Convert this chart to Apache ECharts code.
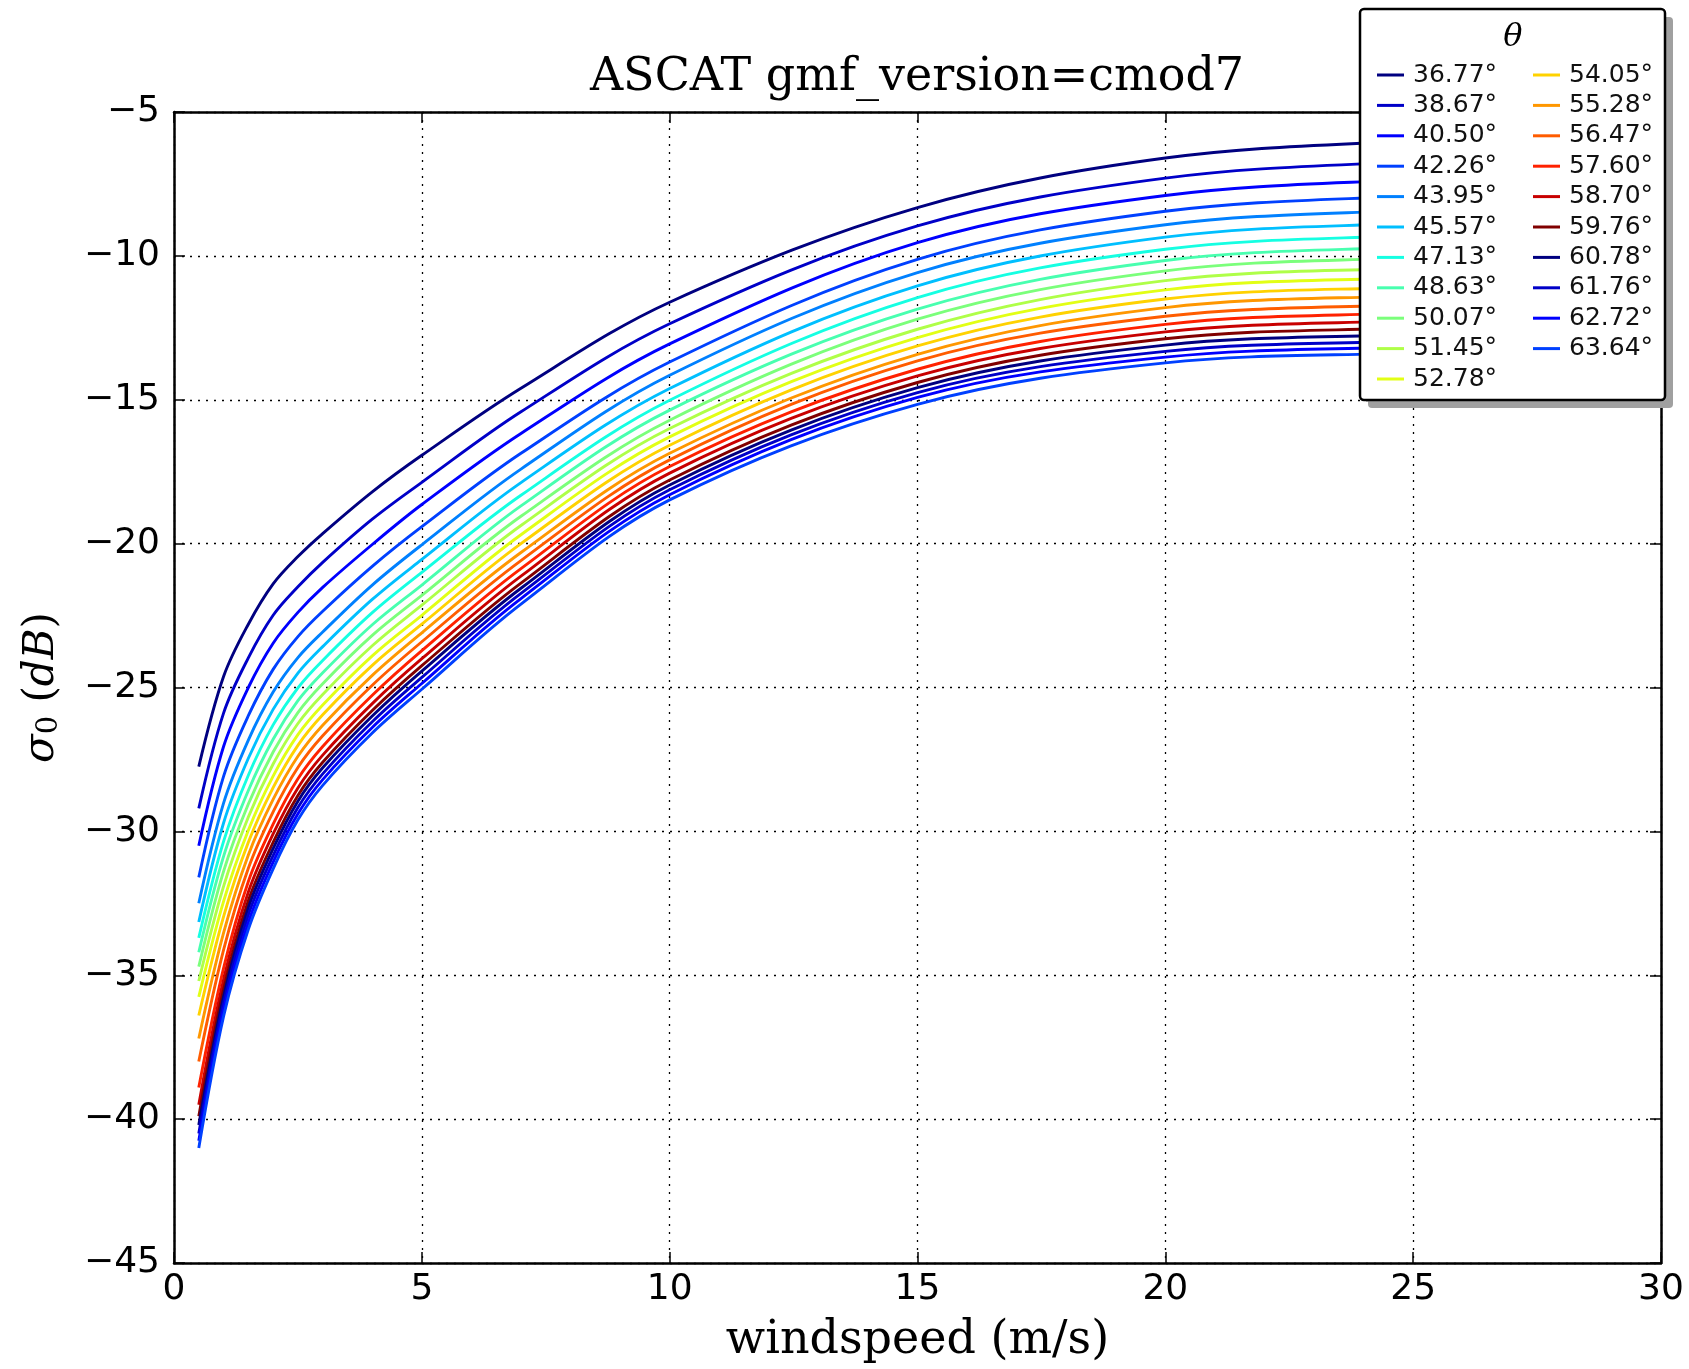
<!DOCTYPE html>
<html>
<head>
<meta charset="utf-8">
<script src="https://cdn.jsdelivr.net/npm/echarts@6/dist/echarts.min.js"></script>
<style>
html,body{margin:0;padding:0;background:#fff;}
#chart{width:1689px;height:1369px;}
</style>
</head>
<body>
<div id="chart"></div>
<script>
// ---- data ----
const windspeed = [0.5, 1, 1.5, 2, 2.5, 3, 4, 5, 7, 10, 15, 20, 25, 30];
const incidenceAngles = ['36.77','38.67','40.50','42.26','43.95','45.57','47.13','48.63','50.07','51.45','52.78',
                         '54.05','55.28','56.47','57.60','58.70','59.76','60.78','61.76','62.72','63.64'];
const lineColors = ['#000080','#0000c8','#0000ff','#0040ff','#0080ff','#00bfff','#15ffe2','#48ffaf','#7bff7b',
                    '#afff48','#e2ff15','#ffd200','#ff9700','#ff5c00','#ff2100','#c80000','#800000',
                    '#000080','#0000c8','#0000ff','#0040ff'];
// sigma0 (dB) for each incidence angle (same order as incidenceAngles), one array per windspeed
const sigma_ws0_5 = [-27.75,-29.2,-30.5,-31.6,-32.5,-33.15,-33.7,-34.2,-34.7,-35.2,-35.75,-36.4,-37.2,-38.0,-38.9,-39.5,-39.9,-40.2,-40.5,-40.75,-41.0];
const sigma_ws1   = [-24.62,-25.89,-27.05,-28.09,-29.02,-29.71,-30.35,-30.87,-31.39,-31.91,-32.43,-32.96,-33.53,-34.12,-34.75,-35.16,-35.5,-35.74,-35.97,-36.2,-36.43];
const sigma_ws1_5 = [-22.8,-23.97,-25.0,-25.98,-26.83,-27.46,-28.05,-28.58,-29.05,-29.5,-29.96,-30.38,-30.82,-31.28,-31.74,-32.11,-32.41,-32.65,-32.9,-33.16,-33.4];
const sigma_ws2   = [-21.4,-22.49,-23.46,-24.37,-25.16,-25.76,-26.3,-26.8,-27.24,-27.66,-28.08,-28.48,-28.89,-29.32,-29.75,-30.09,-30.38,-30.6,-30.84,-31.07,-31.3];
const sigma_ws2_5 = [-20.45,-21.5,-22.39,-23.23,-23.96,-24.5,-25.01,-25.46,-25.87,-26.25,-26.64,-27.01,-27.39,-27.78,-28.17,-28.49,-28.75,-28.95,-29.17,-29.39,-29.6];
const sigma_ws3   = [-19.65,-20.65,-21.52,-22.35,-23.07,-23.58,-24.06,-24.49,-24.87,-25.24,-25.61,-25.95,-26.31,-26.68,-27.05,-27.35,-27.6,-27.79,-28.0,-28.2,-28.4];
const sigma_ws4   = [-18.2,-19.15,-20.03,-20.79,-21.44,-21.94,-22.4,-22.82,-23.19,-23.55,-23.9,-24.23,-24.58,-24.92,-25.27,-25.56,-25.8,-25.99,-26.19,-26.39,-26.58];
const sigma_ws5   = [-16.93,-17.87,-18.64,-19.41,-20.04,-20.55,-21.0,-21.44,-21.8,-22.14,-22.49,-22.8,-23.1,-23.41,-23.72,-24.0,-24.24,-24.43,-24.65,-24.86,-25.06];
const sigma_ws7   = [-14.6,-15.42,-16.17,-16.86,-17.41,-17.88,-18.32,-18.69,-19.05,-19.37,-19.69,-20.0,-20.31,-20.59,-20.87,-21.13,-21.37,-21.55,-21.73,-21.91,-22.1];
const sigma_ws10  = [-11.61,-12.36,-13.06,-13.69,-14.15,-14.61,-15.02,-15.36,-15.71,-16.0,-16.29,-16.58,-16.86,-17.09,-17.32,-17.55,-17.79,-17.96,-18.13,-18.3,-18.48];
const sigma_ws15  = [-8.32,-8.96,-9.54,-10.12,-10.58,-11.04,-11.45,-11.85,-12.2,-12.55,-12.84,-13.13,-13.42,-13.65,-13.94,-14.17,-14.4,-14.58,-14.75,-14.92,-15.16];
const sigma_ws20  = [-6.6,-7.3,-7.9,-8.45,-8.92,-9.35,-9.77,-10.16,-10.52,-10.86,-11.18,-11.5,-11.8,-12.1,-12.38,-12.64,-12.88,-13.1,-13.32,-13.52,-13.72];
const sigma_ws25  = [-6.0,-6.72,-7.35,-7.92,-8.41,-8.86,-9.29,-9.69,-10.06,-10.42,-10.75,-11.08,-11.38,-11.69,-11.98,-12.25,-12.5,-12.73,-12.96,-13.16,-13.37];
const sigma_ws30  = [-5.7,-6.43,-7.05,-7.63,-8.12,-8.57,-9.01,-9.41,-9.78,-10.13,-10.47,-10.8,-11.1,-11.41,-11.71,-11.98,-12.23,-12.46,-12.69,-12.89,-13.1];
const xTicks = [0, 5, 10, 15, 20, 25, 30];
const yTicks = [-45, -40, -35, -30, -25, -20, -15, -10, -5];

const sigmaColumns = [sigma_ws0_5, sigma_ws1, sigma_ws1_5, sigma_ws2, sigma_ws2_5, sigma_ws3, sigma_ws4,
                      sigma_ws5, sigma_ws7, sigma_ws10, sigma_ws15, sigma_ws20, sigma_ws25, sigma_ws30];

const chart = echarts.init(document.getElementById('chart'), null, {renderer: 'canvas'});

const names = incidenceAngles.map(a => a + '°');
const series = incidenceAngles.map((a, i) => ({
  name: names[i],
  type: 'line',
  showSymbol: false,
  smooth: 0.35,
  clip: true,
  animation: false,
  color: lineColors[i],
  lineStyle: {width: 2.9, color: lineColors[i]},
  data: windspeed.map((w, j) => [w, sigmaColumns[j][i]]),
  z: 2
}));

const axisCommon = {
  type: 'value',
  axisLine: {show: true, onZero: false, lineStyle: {color: '#000', width: 2.5}},
  axisTick: {show: true, inside: true, length: 11, lineStyle: {color: '#000', width: 1.5}},
  splitLine: {show: false},
  animation: false
};
const fmtMinus = v => (v < 0 ? '\u2212' + Math.abs(v) : String(v));
const legendText = {fontFamily: 'DejaVu Sans', fontSize: 25, color: '#111', lineHeight: 26, padding: [0, 0, 0, 4]};

const option = {
  backgroundColor: '#fff',
  animation: false,
  title: [
    {text: 'ASCAT gmf_version=cmod7', left: 917, top: 55, textAlign: 'center',
     textStyle: {fontFamily: 'DejaVu Serif', fontWeight: 'normal', fontSize: 46, color: '#000'}, padding: 0},
    {text: 'θ', left: 1513, top: 22, textAlign: 'center', z: 120,
     textStyle: {fontFamily: 'DejaVu Serif', fontStyle: 'italic', fontWeight: 'normal', fontSize: 32, color: '#000'}, padding: 0}
  ],
  grid: {left: 174, top: 112, right: 28, bottom: 106, containLabel: false},
  xAxis: [
    Object.assign({}, axisCommon, {
      position: 'bottom', min: xTicks[0], max: xTicks[xTicks.length - 1], interval: xTicks[1] - xTicks[0],
      axisLabel: {show: true, margin: 9, fontFamily: 'DejaVu Sans', fontSize: 36, color: '#000'},
      splitLine: {show: true, lineStyle: {color: '#000', width: 1.3, type: [2, 6]}},
      name: 'windspeed (m/s)', nameLocation: 'middle', nameGap: 55,
      nameTextStyle: {fontFamily: 'DejaVu Serif', fontSize: 46, color: '#000'}
    }),
    Object.assign({}, axisCommon, {
      position: 'top', min: xTicks[0], max: xTicks[xTicks.length - 1], interval: xTicks[1] - xTicks[0],
      axisLabel: {show: false}
    })
  ],
  yAxis: [
    Object.assign({}, axisCommon, {
      position: 'left', min: yTicks[0], max: yTicks[yTicks.length - 1], interval: yTicks[1] - yTicks[0],
      axisLabel: {show: true, margin: 14, fontFamily: 'DejaVu Sans', fontSize: 36, color: '#000', formatter: fmtMinus},
      splitLine: {show: true, lineStyle: {color: '#000', width: 1.3, type: [2, 6]}},
      name: '{s|σ}{sub|0}{sp| }{p|(}{i|dB}{p|)}', nameLocation: 'middle', nameGap: 110, nameRotate: 90,
      nameTextStyle: {
        color: '#000',
        rich: {
          s: {fontFamily: 'DejaVu Serif', fontStyle: 'italic', fontSize: 42, color: '#000'},
          sub: {fontFamily: 'DejaVu Serif', fontSize: 29, color: '#000', verticalAlign: 'bottom', padding: [14, 0, 0, 0]},
          sp: {fontFamily: 'DejaVu Serif', fontSize: 42},
          p: {fontFamily: 'DejaVu Serif', fontSize: 42, color: '#000'},
          i: {fontFamily: 'DejaVu Serif', fontStyle: 'italic', fontSize: 42, color: '#000'}
        }
      }
    }),
    Object.assign({}, axisCommon, {
      position: 'right', min: yTicks[0], max: yTicks[yTicks.length - 1], interval: yTicks[1] - yTicks[0],
      axisLabel: {show: false}
    })
  ],
  legend: [
    {data: names.slice(0, 11), orient: 'vertical', left: 1377, top: 62, padding: 0, itemGap: 4.4,
     itemWidth: 27, itemHeight: 3, icon: 'rect', textStyle: legendText, z: 110,
     selectedMode: false},
    {data: names.slice(11), orient: 'vertical', left: 1533, top: 62, padding: 0, itemGap: 4.4,
     itemWidth: 27, itemHeight: 3, icon: 'rect', textStyle: legendText, z: 110,
     selectedMode: false}
  ],
  graphic: [
    {type: 'rect', z: 100, shape: {x: 1368, y: 17, width: 305, height: 391, r: 4},
     style: {fill: '#a0a0a0'}},
    {type: 'rect', z: 101, shape: {x: 1360, y: 9, width: 305, height: 391, r: 4},
     style: {fill: '#fff', stroke: '#000', lineWidth: 2.5}}
  ],
  series: series
};
chart.setOption(option);
</script>
</body>
</html>
